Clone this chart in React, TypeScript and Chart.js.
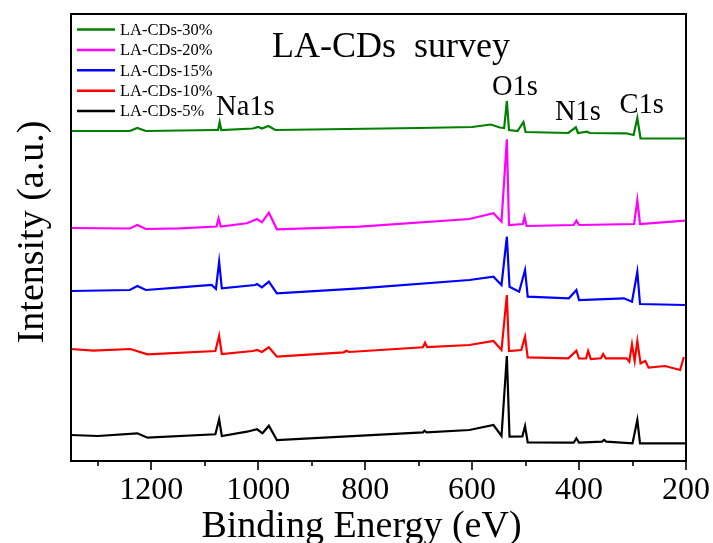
import React, { useEffect, useRef } from 'react';
import { Chart, registerables } from 'chart.js';

Chart.register(...registerables);

const SERIF = "'Liberation Serif', 'Times New Roman', serif";

// ---- data (binding energy in eV, intensity in arbitrary units, already offset) ----
const seriesLabels = ['LA-CDs-30%', 'LA-CDs-20%', 'LA-CDs-15%', 'LA-CDs-10%', 'LA-CDs-5%'];
const seriesColors = ['#008000', '#ff00ff', '#0000ff', '#ff0000', '#000000'];

const energy30 = [1350, 1240, 1226, 1210, 1080, 1075, 1072, 1069, 1010, 1000, 993, 981, 968, 900, 700, 600, 565, 548, 540, 535, 531, 515, 504, 500, 420, 406, 402, 385, 380, 312, 298, 291, 285, 202];
const intensity30 = [329, 329, 332, 329, 330, 330, 338, 330, 331.5, 333, 331.5, 334, 330, 330.5, 332, 333, 335.5, 332.5, 332, 359, 330, 329, 338, 328, 327, 332.7, 327, 328.3, 327, 326.7, 325, 342, 321.7, 321.5];

const energy20 = [1350, 1240, 1226, 1210, 1146, 1078, 1074, 1070, 1021, 1002, 993, 980, 965, 810, 605, 560, 545, 535, 531, 505, 502, 498, 410, 405, 400, 297, 291, 286, 202];
const intensity20 = [232, 231.5, 235, 231, 231.7, 233.5, 241.7, 233.5, 236.7, 241, 237.7, 247.3, 230.7, 233.3, 241, 246.7, 238.3, 320.7, 235, 236, 243.3, 234, 235, 239.3, 235, 236, 260, 236, 239.3];

const energy15 = [1350, 1240, 1226, 1210, 1146, 1087, 1079, 1073, 1068, 1006, 1002, 993, 980, 965, 810, 605, 560, 545, 535, 530, 512, 501, 496, 419, 405, 400, 316, 301, 291, 286, 202];
const intensity15 = [169, 170, 174, 170, 172.7, 175, 171, 198.3, 171.7, 175, 176, 172.7, 178.3, 166.7, 171.7, 180, 183.3, 175, 223.3, 173.3, 168.3, 190, 163.3, 161.7, 170, 160, 161.7, 158.3, 188.3, 156, 155];

const energy10 = [1350, 1308, 1239, 1207, 1080, 1073, 1068, 1010, 1002, 993, 980, 965, 840, 835, 830, 692, 688, 684, 605, 560, 545, 535, 531, 508, 501, 496, 420, 405, 400, 387, 383, 378, 359, 355, 350, 311, 306, 301, 296, 291, 285, 276, 270, 239, 211, 204];
const intensity10 = [111, 109.3, 111, 105.7, 109, 124.3, 106, 109, 110, 108, 112.7, 103.3, 107.7, 109.3, 108, 112.7, 117.3, 113, 115, 119, 110, 165, 109, 110, 123.3, 102.7, 101.7, 109.3, 101.5, 101.5, 109, 101, 101.7, 106, 101.7, 101.7, 98.3, 115.7, 99, 119, 96.7, 99, 92.3, 94, 90, 103];

const energy5 = [1350, 1300, 1226, 1207, 1080, 1073, 1068, 1021, 1002, 992, 980, 965, 692, 689, 685, 605, 560, 545, 535, 530, 506, 501, 496, 410, 405, 400, 357, 353, 349, 300, 291, 286, 202];
const intensity5 = [25, 24, 26.7, 22.3, 25.7, 40.7, 24, 28.3, 30.7, 26.7, 34.3, 20, 27.7, 29.3, 27.7, 30, 35, 24, 104, 23.3, 23.5, 34, 17.7, 17.3, 21.7, 17.3, 18.3, 20, 18.3, 16.7, 40, 16.7, 16.7];

const seriesEnergies = [energy30, energy20, energy15, energy10, energy5];
const seriesIntensities = [intensity30, intensity20, intensity15, intensity10, intensity5];

const majorTicks = [1200, 1000, 800, 600, 400, 200];
const minorTicks = [1300, 1100, 900, 700, 500, 300];
const xMin = 200;
const xMax = 1350;

const peakLabels = ['Na1s', 'O1s', 'N1s', 'C1s'];
const peakLabelEnergies = [1024, 520, 402, 283];
const peakLabelIntensities = [345, 365, 340, 347];

const chartTitle = 'LA-CDs  survey';
const xTitle = 'Binding Energy (eV)';
const yTitle = 'Intensity (a.u.)';

const decorPlugin = {
  id: 'decor',
  afterDraw(chart: any) {
    const ctx = chart.ctx as CanvasRenderingContext2D;
    const area = chart.chartArea;
    const xs = chart.scales.x;
    const ys = chart.scales.y;
    ctx.save();
    // frame
    ctx.strokeStyle = '#000';
    ctx.lineWidth = 2;
    ctx.strokeRect(area.left, area.top, area.right - area.left, area.bottom - area.top);
    // tick marks
    ctx.lineWidth = 1.6;
    majorTicks.forEach((v) => {
      const px = Math.round(xs.getPixelForValue(v));
      ctx.beginPath();
      ctx.moveTo(px, area.bottom);
      ctx.lineTo(px, area.bottom + 9);
      ctx.stroke();
    });
    minorTicks.forEach((v) => {
      const px = Math.round(xs.getPixelForValue(v));
      ctx.beginPath();
      ctx.moveTo(px, area.bottom);
      ctx.lineTo(px, area.bottom + 5);
      ctx.stroke();
    });
    ctx.fillStyle = '#000';
    // chart title
    ctx.font = `36px ${SERIF}`;
    ctx.textAlign = 'center';
    ctx.textBaseline = 'alphabetic';
    ctx.fillText(chartTitle, 391, 57);
    // peak labels
    ctx.font = `28.5px ${SERIF}`;
    peakLabels.forEach((t, i) => {
      ctx.fillText(t, xs.getPixelForValue(peakLabelEnergies[i]), ys.getPixelForValue(peakLabelIntensities[i]));
    });
    // axis titles
    ctx.font = `38px ${SERIF}`;
    ctx.fillText(xTitle, 361.5, 536.5);
    ctx.save();
    ctx.translate(43, 232);
    ctx.rotate(-Math.PI / 2);
    ctx.fillText(yTitle, 0, 0);
    ctx.restore();
    // legend
    ctx.font = `16.5px ${SERIF}`;
    ctx.textAlign = 'left';
    ctx.textBaseline = 'middle';
    seriesLabels.forEach((lab, i) => {
      const y = 29.5 + i * 20.4;
      ctx.strokeStyle = seriesColors[i];
      ctx.lineWidth = 2.5;
      ctx.beginPath();
      ctx.moveTo(77, y);
      ctx.lineTo(115, y);
      ctx.stroke();
      ctx.fillStyle = '#000';
      ctx.fillText(lab, 120, y + 1);
    });
    ctx.restore();
  },
};

export default function App() {
  const canvasRef = useRef<HTMLCanvasElement | null>(null);

  useEffect(() => {
    const canvas = canvasRef.current;
    if (!canvas) return;
    Chart.defaults.font.family = SERIF;
    const datasets = seriesLabels.map((label, i) => ({
      label,
      data: seriesEnergies[i].map((e, j) => ({ x: e, y: seriesIntensities[i][j] })),
      borderColor: seriesColors[i],
      backgroundColor: seriesColors[i],
      borderWidth: 2.2,
      pointRadius: 0,
      tension: 0,
      fill: false,
    }));
    const chart = new Chart(canvas, {
      type: 'line',
      data: { datasets },
      options: {
        animation: false,
        responsive: false,
        devicePixelRatio: 1,
        layout: { padding: { left: 71, top: 14, right: 27, bottom: 0 } },
        plugins: { legend: { display: false }, tooltip: { enabled: false } },
        scales: {
          x: {
            type: 'linear',
            min: xMin,
            max: xMax,
            reverse: true,
            afterBuildTicks: (scale: any) => {
              scale.ticks = majorTicks.map((v) => ({ value: v }));
            },
            afterFit: (scale: any) => {
              scale.height = 82;
              scale.paddingLeft = 0;
              scale.paddingRight = 0;
            },
            ticks: {
              autoSkip: false,
              maxRotation: 0,
              padding: 14,
              color: '#000',
              font: { family: SERIF, size: 32, lineHeight: 1 },
              callback: (v: any) => String(v),
            },
            grid: { display: true, drawOnChartArea: false, drawTicks: false },
            border: { display: false },
          },
          y: {
            type: 'linear',
            min: -1,
            max: 446,
            display: false,
          },
        },
      },
      plugins: [decorPlugin],
    });
    return () => chart.destroy();
  }, []);

  return (
    <div style={{ position: 'absolute', left: 0, top: 0, width: 713, height: 543, background: '#fff' }}>
      <canvas ref={canvasRef} width={713} height={543} />
    </div>
  );
}
